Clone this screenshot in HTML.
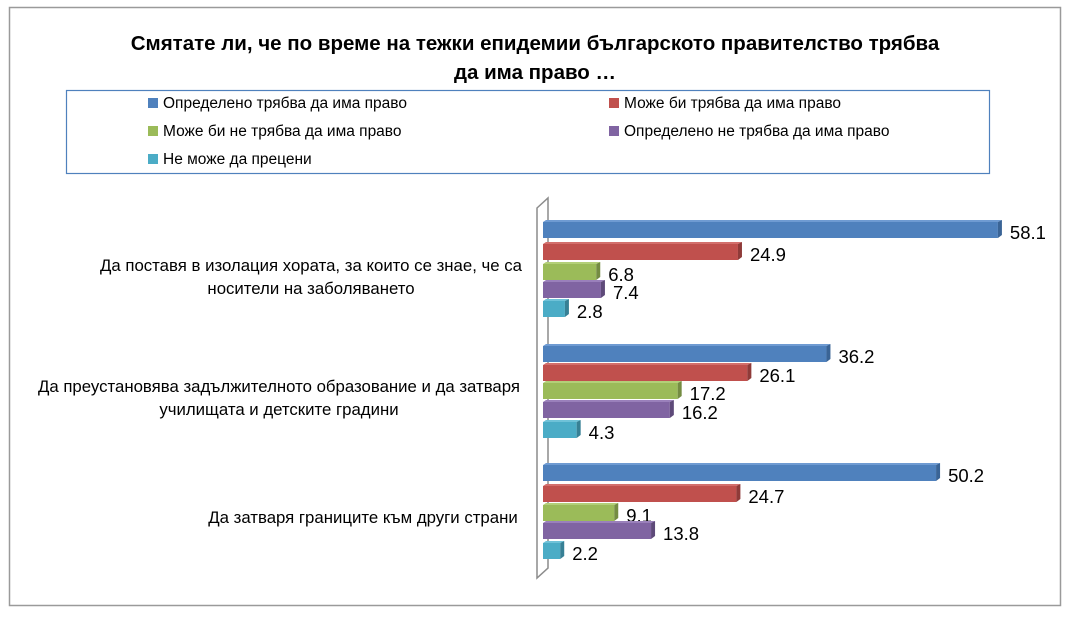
<!DOCTYPE html>
<html><head><meta charset="utf-8"><style>
body{margin:0;background:#fff;}
svg text{font-family:"Liberation Sans","DejaVu Sans",sans-serif;}
</style></head><body>
<svg width="1067" height="615" xmlns="http://www.w3.org/2000/svg">
<rect x="9.5" y="7.5" width="1051" height="598" fill="#fff" stroke="#9a9a9a" stroke-width="1.5"/>
<text x="535" y="50" font-size="20.5" font-weight="bold" text-anchor="middle">Смятате ли, че по време на тежки епидемии българското правителство трябва</text>
<text x="535" y="79" font-size="20.5" font-weight="bold" text-anchor="middle">да има право …</text>
<rect x="66.5" y="90.5" width="923" height="83" fill="#fff" stroke="#4f81bd" stroke-width="1.2"/>
<g font-size="15.5">
<rect x="148" y="98" width="10" height="10" fill="#4f81bd"/><text x="163" y="108">Определено трябва да има право</text>
<rect x="609" y="98" width="10" height="10" fill="#c0504d"/><text x="624" y="108">Може би трябва да има право</text>
<rect x="148" y="126" width="10" height="10" fill="#9bbb59"/><text x="163" y="136">Може би не трябва да има право</text>
<rect x="609" y="126" width="10" height="10" fill="#8064a2"/><text x="624" y="136">Определено не трябва да има право</text>
<rect x="148" y="154" width="10" height="10" fill="#4bacc6"/><text x="163" y="164">Не може да прецени</text>
</g>
<path d="M537 208 L548 198 L548 568 L537 578 Z" fill="#fff" stroke="#8c8c8c" stroke-width="1.5"/>
<g font-size="16.8" text-anchor="middle">
<text x="311" y="271">Да поставя в изолация хората, за които се знае, че са</text>
<text x="311" y="294">носители на заболяването</text>
<text x="279" y="392">Да преустановява задължителното образование и да затваря</text>
<text x="279" y="415">училищата и детските градини</text>
<text x="363" y="523">Да затваря границите към други страни</text>
</g>
<g id="bars"></g>
</svg>
<script>
const cols=[["#4f81bd","#3a6496","#6f9bd2"],["#c0504d","#8f3b39","#d36f6c"],["#9bbb59","#748c42","#b3cf78"],["#8064a2","#5e4a79","#9a80bb"],["#4bacc6","#378095","#6fc2d8"]];
const data=[[58.1,24.9,6.8,7.4,2.8],[36.2,26.1,17.2,16.2,4.3],[50.2,24.7,9.1,13.8,2.2]];
const tops=[[220,242,262,280,299],[344,363,381,400,420],[463,484,503,521,541]];
let s="";const x0=543,k=7.83;
data.forEach((g,gi)=>g.forEach((v,i)=>{
const y=tops[gi][i],h=18,w=v*k,c=cols[i];
s+=`<rect x="${x0}" y="${y+2}" width="${w}" height="${h-2}" fill="${c[0]}"/>`;
s+=`<path d="M${x0} ${y+2} L${x0+3} ${y} L${x0+w+4} ${y} L${x0+w} ${y+2}Z" fill="${c[2]}"/>`;
s+=`<path d="M${x0+w} ${y+2} L${x0+w+4} ${y} L${x0+w+4} ${y+h-3} L${x0+w} ${y+h}Z" fill="${c[1]}"/>`;
s+=`<text x="${x0+w+12}" y="${y+h+1}" font-size="18.5">${v}</text>`;
}));
document.getElementById("bars").innerHTML=s;
</script>
</body></html>
